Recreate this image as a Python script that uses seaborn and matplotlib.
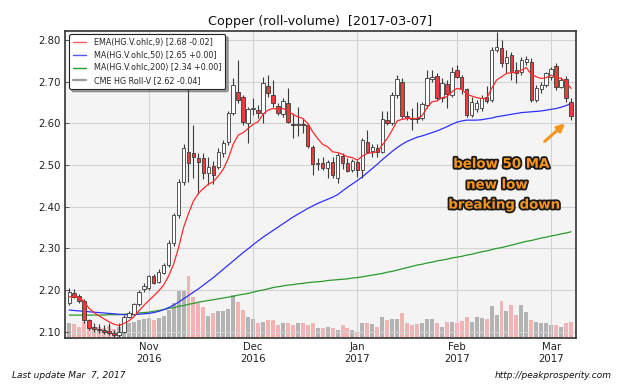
import numpy as np
import pandas as pd
import matplotlib
matplotlib.use("Agg")
import matplotlib.pyplot as plt
import matplotlib.patheffects as pe
from matplotlib.lines import Line2D
import seaborn as sns

# ---------------- data ----------------
start_date = "2016-10-10"
end_date = "2017-03-07"
holidays = ["2016-11-24", "2016-12-26", "2017-01-02", "2017-01-16", "2017-02-20"]

open_ = [
    2.168, 2.192, 2.187, 2.173, 2.128, 2.112, 2.106, 2.104, 2.102, 2.098,
    2.092, 2.100, 2.136, 2.142, 2.166, 2.202, 2.206, 2.234, 2.220, 2.242,
    2.260, 2.312, 2.380, 2.460, 2.532, 2.528, 2.518, 2.516, 2.480, 2.498,
    2.496, 2.530, 2.556, 2.624, 2.676, 2.664, 2.600, 2.634, 2.632, 2.624,
    2.690, 2.668, 2.642, 2.622, 2.648, 2.598, 2.596, 2.599, 2.596, 2.544,
    2.502, 2.504, 2.492, 2.508, 2.468, 2.522, 2.506, 2.488, 2.508, 2.488,
    2.556, 2.534, 2.542, 2.532, 2.608, 2.600, 2.668, 2.700, 2.618, 2.614,
    2.614, 2.614, 2.644, 2.706, 2.714, 2.660, 2.694, 2.668, 2.728, 2.712,
    2.682, 2.620, 2.634, 2.636, 2.664, 2.656, 2.776, 2.780, 2.744, 2.764,
    2.728, 2.724, 2.748, 2.748, 2.656, 2.682, 2.692, 2.712, 2.738, 2.688,
    2.706, 2.652]
high = [
    2.204, 2.202, 2.190, 2.178, 2.130, 2.120, 2.118, 2.116, 2.120, 2.104,
    2.120, 2.140, 2.150, 2.170, 2.200, 2.216, 2.236, 2.238, 2.250, 2.266,
    2.320, 2.386, 2.466, 2.550, 2.760, 2.596, 2.530, 2.530, 2.520, 2.510,
    2.540, 2.560, 2.630, 2.708, 2.752, 2.668, 2.640, 2.660, 2.644, 2.712,
    2.716, 2.704, 2.650, 2.660, 2.684, 2.624, 2.640, 2.612, 2.600, 2.548,
    2.516, 2.520, 2.512, 2.520, 2.530, 2.530, 2.516, 2.514, 2.512, 2.564,
    2.584, 2.550, 2.550, 2.630, 2.630, 2.676, 2.716, 2.710, 2.630, 2.636,
    2.652, 2.652, 2.728, 2.728, 2.720, 2.710, 2.704, 2.736, 2.740, 2.716,
    2.684, 2.664, 2.656, 2.668, 2.690, 2.784, 2.820, 2.800, 2.776, 2.772,
    2.748, 2.760, 2.762, 2.756, 2.692, 2.700, 2.724, 2.736, 2.744, 2.712,
    2.714, 2.660]
low = [
    2.164, 2.180, 2.170, 2.122, 2.104, 2.100, 2.096, 2.094, 2.092, 2.088,
    2.086, 2.098, 2.132, 2.140, 2.162, 2.196, 2.200, 2.214, 2.216, 2.238,
    2.256, 2.306, 2.374, 2.452, 2.460, 2.470, 2.430, 2.466, 2.452, 2.455,
    2.490, 2.520, 2.548, 2.620, 2.648, 2.596, 2.552, 2.620, 2.612, 2.600,
    2.664, 2.640, 2.620, 2.616, 2.600, 2.564, 2.570, 2.576, 2.542, 2.476,
    2.488, 2.488, 2.468, 2.468, 2.456, 2.490, 2.484, 2.484, 2.472, 2.470,
    2.528, 2.520, 2.520, 2.528, 2.596, 2.596, 2.660, 2.612, 2.608, 2.584,
    2.600, 2.608, 2.636, 2.700, 2.656, 2.652, 2.636, 2.664, 2.708, 2.670,
    2.616, 2.616, 2.628, 2.630, 2.650, 2.652, 2.772, 2.736, 2.720, 2.704,
    2.696, 2.716, 2.740, 2.652, 2.652, 2.674, 2.688, 2.704, 2.680, 2.684,
    2.652, 2.608]
close = [
    2.196, 2.183, 2.175, 2.128, 2.108, 2.106, 2.104, 2.100, 2.097, 2.092,
    2.100, 2.136, 2.144, 2.166, 2.196, 2.210, 2.234, 2.218, 2.244, 2.260,
    2.312, 2.380, 2.460, 2.540, 2.506, 2.520, 2.508, 2.480, 2.496, 2.476,
    2.532, 2.552, 2.624, 2.692, 2.656, 2.604, 2.634, 2.636, 2.626, 2.696,
    2.672, 2.648, 2.626, 2.654, 2.604, 2.596, 2.598, 2.597, 2.546, 2.502,
    2.504, 2.492, 2.508, 2.476, 2.524, 2.504, 2.486, 2.510, 2.488, 2.560,
    2.532, 2.544, 2.532, 2.610, 2.600, 2.668, 2.706, 2.618, 2.614, 2.610,
    2.610, 2.646, 2.708, 2.712, 2.660, 2.696, 2.670, 2.724, 2.712, 2.682,
    2.620, 2.652, 2.648, 2.660, 2.654, 2.776, 2.784, 2.744, 2.760, 2.724,
    2.722, 2.752, 2.754, 2.656, 2.684, 2.692, 2.720, 2.730, 2.688, 2.704,
    2.660, 2.618]
ema9 = [
    2.184, 2.184, 2.183, 2.172, 2.156, 2.146, 2.138, 2.131, 2.124, 2.118,
    2.115, 2.120, 2.126, 2.136, 2.150, 2.163, 2.175, 2.186, 2.198, 2.212,
    2.234, 2.262, 2.302, 2.350, 2.384, 2.414, 2.432, 2.444, 2.454, 2.460,
    2.474, 2.490, 2.516, 2.550, 2.572, 2.578, 2.588, 2.598, 2.604, 2.622,
    2.632, 2.636, 2.634, 2.636, 2.630, 2.622, 2.616, 2.612, 2.600, 2.580,
    2.564, 2.550, 2.544, 2.532, 2.530, 2.526, 2.520, 2.518, 2.512, 2.522,
    2.528, 2.530, 2.532, 2.548, 2.564, 2.584, 2.606, 2.610, 2.612, 2.612,
    2.612, 2.618, 2.638, 2.652, 2.654, 2.662, 2.664, 2.676, 2.684, 2.682,
    2.670, 2.666, 2.662, 2.660, 2.660, 2.684, 2.704, 2.712, 2.720, 2.722,
    2.722, 2.728, 2.734, 2.718, 2.712, 2.708, 2.710, 2.716, 2.710, 2.708,
    2.700, 2.684]
ma50 = [
    2.152, 2.151, 2.150, 2.149, 2.148, 2.147, 2.146, 2.145, 2.144, 2.143,
    2.142, 2.141, 2.141, 2.141, 2.142, 2.143, 2.144, 2.146, 2.149, 2.153,
    2.158, 2.164, 2.171, 2.179, 2.187, 2.195, 2.203, 2.212, 2.221, 2.230,
    2.240, 2.250, 2.260, 2.270, 2.280, 2.290, 2.299, 2.309, 2.318, 2.327,
    2.335, 2.343, 2.351, 2.359, 2.367, 2.375, 2.382, 2.389, 2.396, 2.402,
    2.408, 2.413, 2.418, 2.423, 2.429, 2.438, 2.447, 2.455, 2.463, 2.472,
    2.482, 2.492, 2.502, 2.513, 2.523, 2.533, 2.542, 2.550, 2.557, 2.562,
    2.567, 2.570, 2.574, 2.578, 2.582, 2.587, 2.592, 2.598, 2.603, 2.606,
    2.608, 2.608, 2.608, 2.609, 2.611, 2.613, 2.616, 2.618, 2.620, 2.622,
    2.624, 2.626, 2.627, 2.628, 2.629, 2.630, 2.632, 2.634, 2.636, 2.639,
    2.643, 2.648]
ma200 = [
    2.140, 2.140, 2.140, 2.140, 2.140, 2.140, 2.140, 2.140, 2.141, 2.141,
    2.141, 2.142, 2.143, 2.144, 2.145, 2.146, 2.147, 2.149, 2.151, 2.153,
    2.156, 2.158, 2.161, 2.163, 2.166, 2.168, 2.171, 2.173, 2.175, 2.177,
    2.179, 2.181, 2.183, 2.185, 2.188, 2.190, 2.192, 2.195, 2.198, 2.200,
    2.203, 2.206, 2.208, 2.210, 2.212, 2.213, 2.215, 2.216, 2.218, 2.219,
    2.220, 2.221, 2.223, 2.224, 2.225, 2.226, 2.227, 2.229, 2.230, 2.232,
    2.234, 2.236, 2.238, 2.240, 2.243, 2.245, 2.248, 2.251, 2.254, 2.257,
    2.260, 2.262, 2.265, 2.267, 2.270, 2.272, 2.274, 2.277, 2.279, 2.281,
    2.284, 2.286, 2.289, 2.292, 2.294, 2.297, 2.300, 2.302, 2.305, 2.308,
    2.311, 2.314, 2.317, 2.319, 2.322, 2.325, 2.327, 2.330, 2.332, 2.335,
    2.337, 2.340]
volume = [
    15, 14, 11, 16, 13, 10, 11, 10, 12, 9,
    11, 13, 15, 16, 18, 19, 20, 18, 20, 22,
    28, 35, 48, 48, 62, 41, 35, 31, 22, 25,
    27, 27, 29, 43, 36, 28, 21, 19, 15, 16,
    18, 18, 13, 15, 15, 13, 15, 15, 13, 15,
    10, 10, 11, 10, 8, 13, 10, 8, 6, 15,
    15, 14, 11, 21, 18, 19, 19, 25, 15, 13,
    14, 15, 19, 19, 15, 11, 16, 16, 15, 17,
    21, 16, 21, 20, 19, 32, 23, 37, 27, 33,
    23, 33, 26, 18, 16, 15, 15, 13, 13, 11,
    15, 16]

tick_months = ["2016-11", "2016-12", "2017-01", "2017-02", "2017-03"]
tick_labels = ["Nov\n2016", "Dec\n2016", "Jan\n2017", "Feb\n2017", "Mar\n2017"]
y_ticks = [2.10, 2.20, 2.30, 2.40, 2.50, 2.60, 2.70, 2.80]

legend_labels = ["EMA(HG.V.ohlc,9) [2.68 -0.02]",
                 "MA(HG.V.ohlc,50) [2.65 +0.00]",
                 "MA(HG.V.ohlc,200) [2.34 +0.00]",
                 "CME HG Roll-V [2.62 -0.04]"]
title = "Copper (roll-volume)  [2017-03-07]"
note_lines = ["below 50 MA", "new low", "breaking down"]

# ---------------- build ----------------
dates = pd.bdate_range(start_date, end_date)
dates = dates[~dates.isin(pd.to_datetime(holidays))]
df = pd.DataFrame({"date": dates, "open": open_, "high": high, "low": low,
                   "close": close, "ema9": ema9, "ma50": ma50,
                   "ma200": ma200, "volume": volume})
df["x"] = np.arange(len(df))
df["up"] = df["close"] >= df["open"]

sns.set_theme(style="whitegrid")
plt.rcParams["font.family"] = ["DejaVu Sans"]

fig = plt.figure(figsize=(6.4, 3.84), dpi=100)
fig.patch.set_facecolor("white")
ax = fig.add_axes([0.101, 0.1198, 0.7985, 0.7995])
ax2 = ax.twinx()

# volume axis in the background
ax2.patch.set_visible(True)
ax2.set_facecolor("#f4f4f4")
ax.patch.set_visible(False)
ax.set_zorder(ax2.get_zorder() + 1)
vol_colors = np.where(df["up"], "#b3b3b3", "#f4b3b3")
ax2.bar(df["x"], df["volume"], width=0.8, color=vol_colors, linewidth=0)
ax2.set_ylim(0, 307)
ax2.set_yticks([])
ax2.grid(False)
for s in ax2.spines.values():
    s.set_visible(False)

# grid
ax.grid(True, color="#d2d2d2", linewidth=0.8)
ax.set_axisbelow(True)

# indicator lines (seaborn)
sns.lineplot(data=df, x="x", y="ma200", ax=ax, color="#2a9a2a", lw=0.9, zorder=2)
sns.lineplot(data=df, x="x", y="ma50", ax=ax, color="#3030ff", lw=0.9, zorder=2)

# candles
ax.vlines(df["x"], df["low"], df["high"], color="#3a3a3a", lw=0.8, zorder=3)
body_bottom = np.minimum(df["open"], df["close"])
body_h = np.maximum(np.abs(df["close"] - df["open"]), 0.0025)
body_colors = np.where(df["up"], "white", "#ee3b3b")
ax.bar(df["x"], body_h, bottom=body_bottom, width=0.7, color=body_colors,
       edgecolor="#3a3a3a", linewidth=0.6, zorder=4)

sns.lineplot(data=df, x="x", y="ema9", ax=ax, color="#ff2a2a", lw=0.9, zorder=5)

# axes settings
n = len(df)
ax.set_xlim(-0.93, n - 1 + 0.93)
ax.set_ylim(2.085, 2.822)
tick_pos = [int(df.index[df["date"].dt.strftime("%Y-%m") == m][0]) for m in tick_months]
ax.set_xticks(tick_pos)
ax.set_xticklabels(tick_labels, fontsize=7.3, color="#222222")
ax.set_yticks(y_ticks)
ax.set_yticklabels([f"{v:.2f}" for v in y_ticks], fontsize=7.3, color="#222222")
ax.tick_params(direction="in", length=3, width=0.6, color="#444444", pad=3)
ax.set_xlabel("")
ax.set_ylabel("")
for s in ax.spines.values():
    s.set_visible(True)
    s.set_color("#333333")
    s.set_linewidth(1.2)

ax.set_title(title, fontsize=9.2, color="#111111", pad=4)

# legend
handles = [Line2D([], [], color="#ff5a5a", lw=1.0),
           Line2D([], [], color="#5050ff", lw=1.0),
           Line2D([], [], color="#2a9a2a", lw=1.0),
           Line2D([], [], color="#9a9a9a", lw=1.6)]
leg = ax.legend(handles, legend_labels, loc="upper left",
                bbox_to_anchor=(0.0084, 0.99), borderaxespad=0,
                fontsize=5.8, frameon=True, fancybox=True, shadow=True,
                framealpha=1, edgecolor="#222222", handlelength=1.6,
                handletextpad=1.0, labelspacing=0.45, borderpad=0.5)
leg.get_frame().set_linewidth(0.8)
leg.set_zorder(10)

# annotation
orange = "#f7941d"
effects = [pe.withStroke(linewidth=2.6, foreground="#1a1a1a")]
note_pos = [(87.0, 2.502), (86.1, 2.452), (87.6, 2.404)]
for txt, (nx, ny) in zip(note_lines, note_pos):
    ax.text(nx, ny, txt, ha="center", va="center", fontsize=9.6,
            fontweight="bold", color=orange, path_effects=effects, zorder=8)
ax.annotate("", xy=(99.8, 2.600), xytext=(95.7, 2.557),
            arrowprops=dict(arrowstyle="-|>", color=orange, lw=2.2,
                            mutation_scale=11, shrinkA=0, shrinkB=0),
            zorder=8)

# footer
fig.text(12 / 640, 1 - 375 / 384, "Last update Mar  7, 2017", fontsize=6.5,
         style="italic", ha="left", va="center", color="#111111")
fig.text(612 / 640, 1 - 375 / 384, "http://peakprosperity.com", fontsize=6.5,
         style="italic", ha="right", va="center", color="#111111")

fig.savefig("out.png", dpi=100, facecolor="white")
